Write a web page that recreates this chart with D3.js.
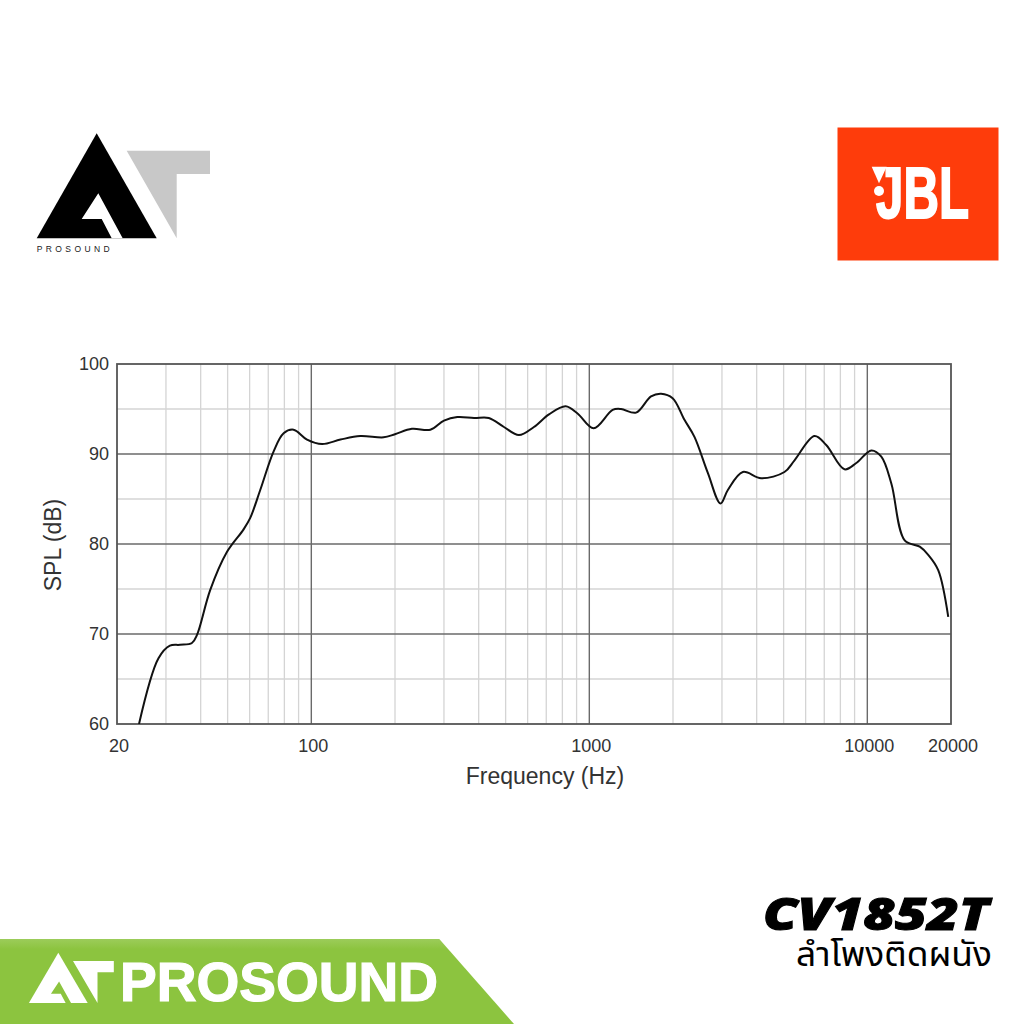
<!DOCTYPE html>
<html>
<head>
<meta charset="utf-8">
<script src="https://cdn.jsdelivr.net/npm/d3@7"></script>
<style>
  html,body{margin:0;padding:0;background:#fff;}
  svg{display:block;}
</style>
</head>
<body>
<svg id="c" width="1024" height="1024"></svg>
<script>
// ---- data ----
const freq = [24, 28.2, 31, 33.7, 37.2, 38.8, 43.3, 49.7, 57, 60.3,
  65.5, 73.2, 79.5, 86.3, 96.5, 109.3, 127.3, 150, 182, 200,
  230, 268, 300, 335, 385, 435, 493, 558, 632, 716,
  822, 907, 1036, 1213, 1300, 1473, 1667, 1812, 1994, 2199,
  2389, 2669, 2964, 3150, 3567, 4150, 5035, 5473, 6457, 7114,
  8280, 9126, 10340, 11230, 12207, 13630, 15440, 16560, 17990, 19550];
const spl = [60, 67.3, 68.7, 68.8, 69.0, 69.9, 74.9, 79.1, 81.6, 82.9,
  86, 90.3, 92.3, 92.7, 91.6, 91.1, 91.6, 92.0, 91.85, 92.2,
  92.8, 92.7, 93.7, 94.1, 94.0, 94.0, 93.0, 92.1, 93.0, 94.4,
  95.3, 94.5, 92.85, 94.9, 95.0, 94.6, 96.4, 96.7, 96.2, 93.8,
  91.9, 87.9, 84.5, 86, 88.0, 87.3, 88.0, 89.3, 92.0, 91,
  88.3, 89, 90.4, 89.7, 86.7, 80.4, 79.7, 78.8, 77.1, 71.9];
const xTickLabels = [20, 100, 1000, 10000, 20000];
const yTickLabels = [60, 70, 80, 90, 100];
const xMajorGrid = [100, 1000, 10000];
const xMinorGrid = [30,40,50,60,70,80,90, 200,300,400,500,600,700,800,900, 2000,3000,4000,5000,6000,7000,8000,9000];
const yMinorGrid = [65, 75, 85, 95];
const yMajorGrid = [70, 80, 90];

const svg = d3.select("#c");
svg.append("rect").attr("width",1024).attr("height",1024).attr("fill","#fff");
const defs = svg.append("defs");

const L = 117, R = 951, T = 364, B = 724;
const x = d3.scaleLog().domain([20, 20000]).range([L, R]);
const y = d3.scaleLinear().domain([60, 100]).range([B, T]);

const g = svg.append("g");
// minor grid
g.selectAll(".vmin").data(xMinorGrid).join("line")
  .attr("x1", d=>x(d)).attr("x2", d=>x(d)).attr("y1", T).attr("y2", B)
  .attr("stroke","#d4d4d4").attr("stroke-width",1.3);
g.selectAll(".hmin").data(yMinorGrid).join("line")
  .attr("x1", L).attr("x2", R).attr("y1", d=>y(d)).attr("y2", d=>y(d))
  .attr("stroke","#d4d4d4").attr("stroke-width",1.3);
// major grid
g.selectAll(".vmaj").data(xMajorGrid).join("line")
  .attr("x1", d=>x(d)).attr("x2", d=>x(d)).attr("y1", T).attr("y2", B)
  .attr("stroke","#6a6a6a").attr("stroke-width",1.4);
g.selectAll(".hmaj").data(yMajorGrid).join("line")
  .attr("x1", L).attr("x2", R).attr("y1", d=>y(d)).attr("y2", d=>y(d))
  .attr("stroke","#6a6a6a").attr("stroke-width",1.4);
// frame
g.append("rect").attr("x",L).attr("y",T).attr("width",R-L).attr("height",B-T)
  .attr("fill","none").attr("stroke","#555").attr("stroke-width",1.8);

// curve
const pts = freq.map((f,i)=>[f, spl[i]]);
const line = d3.line().x(d=>x(d[0])).y(d=>y(d[1])).curve(d3.curveCatmullRom.alpha(0.5));
defs.append("clipPath").attr("id","clip").append("rect")
  .attr("x",L).attr("y",T).attr("width",R-L).attr("height",B-T);
g.append("path").attr("d", line(pts)).attr("fill","none").attr("stroke","#111")
  .attr("stroke-width",2).attr("stroke-linejoin","round").attr("clip-path","url(#clip)");

const font = "'Liberation Sans', Arial, Helvetica, sans-serif";
// y tick labels
g.selectAll(".yl").data(yTickLabels).join("text")
  .attr("x", L-8).attr("y", d=>y(d)).attr("dy","0.36em")
  .attr("text-anchor","end").attr("font-family",font).attr("font-size",18)
  .attr("fill","#333").text(d=>d);
// x tick labels
g.selectAll(".xl").data(xTickLabels).join("text")
  .attr("x", d=>x(d)+2).attr("y", 751.5)
  .attr("text-anchor","middle").attr("font-family",font).attr("font-size",18)
  .attr("fill","#333").text(d=>d);
// axis titles
g.append("text").attr("x", 545).attr("y", 783.5).attr("text-anchor","middle")
  .attr("font-family",font).attr("font-size",23).attr("fill","#333").text("Frequency (Hz)");
g.append("text").attr("transform","translate(61,545) rotate(-90)").attr("text-anchor","middle")
  .attr("font-family",font).attr("font-size",23).attr("fill","#333").text("SPL (dB)");

// ---- AT logo (top-left) ----
const A = [[0,0],[60,105],[-60,105]];
const cut = [[-15,85.7],[1.6,60],[26,105],[15,105],[5,85.7]];
const Tt = [[30,17.4],[113.3,17.4],[113.3,40.7],[80,40.7],[80,105]];
const poly = p => "M" + p.map(q=>q.join(",")).join("L") + "Z";
const logo1 = svg.append("g").attr("transform","translate(96.7,133.3)");
logo1.append("path").attr("d",poly(A)).attr("fill","#000");
logo1.append("path").attr("d",poly(cut)).attr("fill","#fff");
logo1.append("path").attr("d",poly(Tt)).attr("fill","#c8c8c8");
svg.append("text").attr("x",36.7).attr("y",251.5).attr("font-family",font)
  .attr("font-size",8.5).attr("fill","#222").attr("textLength",73).attr("lengthAdjust","spacing")
  .text("PROSOUND");

// ---- JBL logo ----
svg.append("rect").attr("x",837.5).attr("y",127.5).attr("width",161).attr("height",133).attr("fill","#fe3c0b");
svg.append("path").attr("d",poly([[871.7,166.7],[886.7,166.7],[879,183.3]])).attr("fill","#fff");
svg.append("circle").attr("cx",879).attr("cy",191).attr("r",5).attr("fill","#fff");
svg.append("text").attr("x",876).attr("y",218.3)
  .attr("font-family",font)
  .attr("font-weight","bold").attr("font-size",72).attr("fill","#fff")
  .attr("stroke","#fff").attr("stroke-width",2).attr("stroke-linejoin","miter")
  .attr("textLength",93).attr("lengthAdjust","spacingAndGlyphs").text("JBL");

// ---- bottom banner ----
const grad = defs.append("linearGradient").attr("id","bg").attr("x1",0).attr("y1",0).attr("x2",0).attr("y2",1);
grad.append("stop").attr("offset","0").attr("stop-color","#9ccc5a");
grad.append("stop").attr("offset","0.12").attr("stop-color","#8cc43f");
grad.append("stop").attr("offset","1").attr("stop-color","#8cc43f");
svg.append("path").attr("d",poly([[0,939],[439.3,939],[514,1024],[0,1024]])).attr("fill","url(#bg)");
const logo2 = svg.append("g").attr("transform","translate(58.3,952.7) scale(0.49,0.48)");
logo2.append("path").attr("d",poly(A)).attr("fill","#fff");
logo2.append("path").attr("d",poly(cut)).attr("fill","#8cc43f");
logo2.append("path").attr("d",poly(Tt)).attr("fill","#fff");
svg.append("text").attr("x",120).attr("y",1000.5).attr("font-family",font)
  .attr("font-weight","bold").attr("font-size",55).attr("fill","#fff")
  .attr("stroke","#fff").attr("stroke-width",1.2)
  .attr("textLength",318).attr("lengthAdjust","spacingAndGlyphs").text("PROSOUND");

// ---- model text ----
svg.append("text").attr("x",763).attr("y",930)
  .attr("font-family","'Noto Sans', 'DejaVu Sans', sans-serif").attr("font-weight",900)
  .attr("font-style","italic").attr("font-size",44).attr("fill","#000")
  .attr("stroke","#000").attr("stroke-width",1)
  .attr("textLength",226).attr("lengthAdjust","spacingAndGlyphs").text("CV1852T");
svg.append("text").attr("x",992).attr("y",966).attr("text-anchor","end")
  .attr("font-family","'Noto Sans Thai','Noto Sans','Loma','Garuda',sans-serif")
  .attr("font-size",33).attr("fill","#000")
  .attr("textLength",196).attr("lengthAdjust","spacingAndGlyphs").text("ลำโพงติดผนัง");
</script>
</body>
</html>
